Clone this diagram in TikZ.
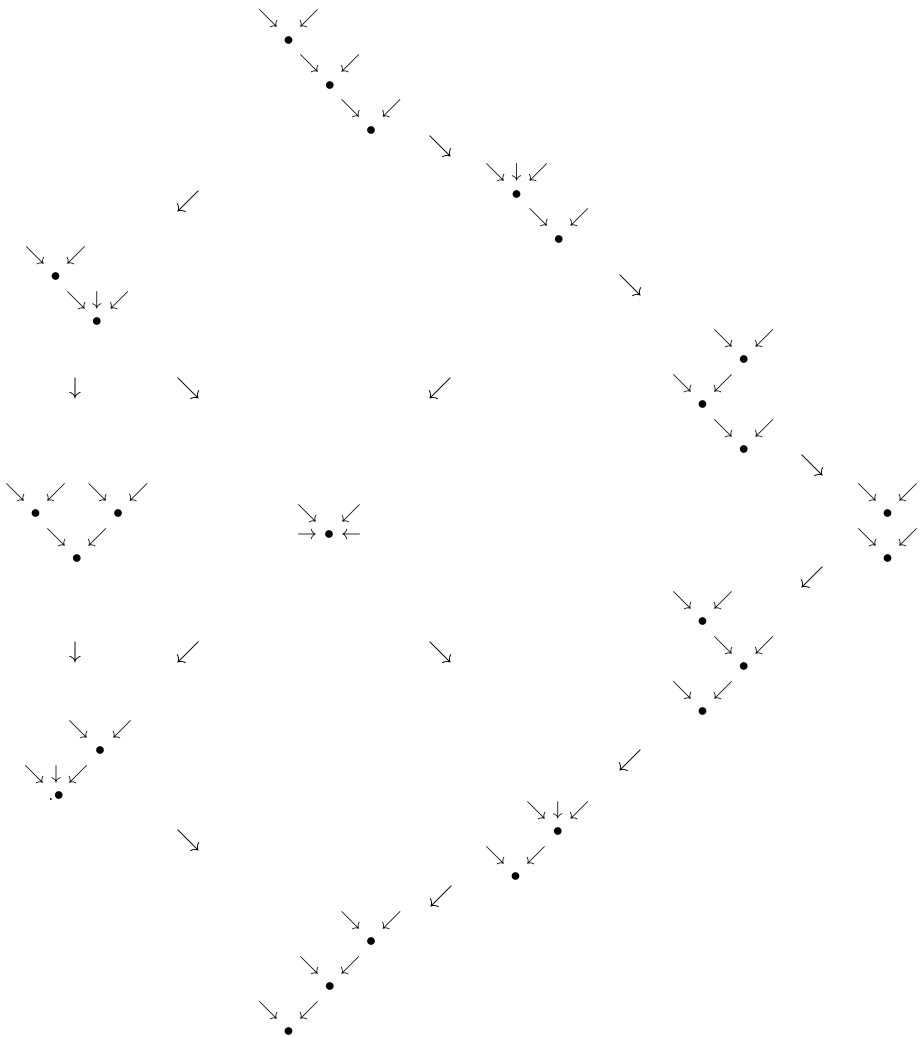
\documentclass[tikz,border=0pt]{standalone}
\usepackage{amsmath,amssymb}
\usepackage{tikz}
\usetikzlibrary{positioning}
\tikzset{
  trleaf/.style={inner sep=0pt, yshift=-1.2pt, font=\fontsize{12}{14}\selectfont},
  trdot/.style={inner sep=0pt, yshift=-1.2pt, font=\fontsize{12.5}{14}\selectfont},
  trmove/.style={inner sep=0pt, font=\fontsize{15.5}{18}\selectfont},
  trgrid/.style={x=12.36pt, y=-13.5pt}
}

\begin{document}
\begin{tikzpicture}[x=0.6pt,y=-0.6pt]
  \useasboundingbox (0,0) rectangle (919,1037);
  % top tree
  \begin{scope}[shift={(268,17)}, trgrid]
    \node[trleaf] (t1a) at (0,0) {$\searrow$};
    \node[trleaf] (t1b) at (2,0) {$\swarrow$};
    \node[trdot]  (t1c) at (1,1) {$\bullet$};
    \node[trleaf] (t1d) at (2,2) {$\searrow$};
    \node[trleaf] (t1e) at (4,2) {$\swarrow$};
    \node[trdot]  (t1f) at (3,3) {$\bullet$};
    \node[trleaf] (t1g) at (4,4) {$\searrow$};
    \node[trleaf] (t1h) at (6,4) {$\swarrow$};
    \node[trdot]  (t1i) at (5,5) {$\bullet$};
  \end{scope}
  \begin{scope}[shift={(495,171)}, trgrid]
    \node[trleaf] (t2a) at (0,0) {$\searrow$};
    \node[trleaf] (t2b) at (1.05,0) {$\downarrow$};
    \node[trleaf] (t2c) at (2.1,0) {$\swarrow$};
    \node[trdot]  (t2d) at (1.05,1) {$\bullet$};
    \node[trleaf] (t2e) at (2.1,2) {$\searrow$};
    \node[trleaf] (t2f) at (4.1,2) {$\swarrow$};
    \node[trdot]  (t2g) at (3.1,3) {$\bullet$};
  \end{scope}
  \begin{scope}[shift={(35,253)}, trgrid]
    \node[trleaf] (t3a) at (0,0) {$\searrow$};
    \node[trleaf] (t3b) at (2,0) {$\swarrow$};
    \node[trdot]  (t3c) at (1,1) {$\bullet$};
    \node[trleaf] (t3d) at (2,2) {$\searrow$};
    \node[trleaf] (t3e) at (3,2) {$\downarrow$};
    \node[trleaf] (t3f) at (4.1,2) {$\swarrow$};
    \node[trdot]  (t3g) at (3,3) {$\bullet$};
  \end{scope}
  \begin{scope}[shift={(682,336)}, trgrid]
    \node[trleaf] (t4a) at (2,0) {$\searrow$};
    \node[trleaf] (t4b) at (4,0) {$\swarrow$};
    \node[trdot]  (t4c) at (3,1) {$\bullet$};
    \node[trleaf] (t4d) at (0,2) {$\searrow$};
    \node[trleaf] (t4e) at (2,2) {$\swarrow$};
    \node[trdot]  (t4f) at (1,3) {$\bullet$};
    \node[trleaf] (t4g) at (2,4) {$\searrow$};
    \node[trleaf] (t4h) at (4,4) {$\swarrow$};
    \node[trdot]  (t4i) at (3,5) {$\bullet$};
  \end{scope}
  \begin{scope}[shift={(867,490)}, trgrid]
    \node[trleaf] (t5a) at (0,0) {$\searrow$};
    \node[trleaf] (t5b) at (2,0) {$\swarrow$};
    \node[trdot]  (t5c) at (1,1) {$\bullet$};
    \node[trleaf] (t5d) at (0,2) {$\searrow$};
    \node[trleaf] (t5e) at (2,2) {$\swarrow$};
    \node[trdot]  (t5f) at (1,3) {$\bullet$};
  \end{scope}
  \begin{scope}[shift={(15,490)}, trgrid]
    \node[trleaf] (t6a) at (0,0) {$\searrow$};
    \node[trleaf] (t6b) at (2,0) {$\swarrow$};
    \node[trleaf] (t6c) at (4,0) {$\searrow$};
    \node[trleaf] (t6d) at (6,0) {$\swarrow$};
    \node[trdot]  (t6e) at (1,1) {$\bullet$};
    \node[trdot]  (t6f) at (5,1) {$\bullet$};
    \node[trleaf] (t6g) at (2,2) {$\searrow$};
    \node[trleaf] (t6h) at (4,2) {$\swarrow$};
    \node[trdot]  (t6i) at (3,3) {$\bullet$};
  \end{scope}
  % middle tree
  \begin{scope}[shift={(307,511)}, trgrid, x=13.2pt]
    \node[trleaf] (t7a) at (0,0) {$\searrow$};
    \node[trleaf] (t7b) at (2,0) {$\swarrow$};
    \node[trleaf] (t7c) at (0,1) {$\rightarrow$};
    \node[trdot]  (t7d) at (1,1) {$\bullet$};
    \node[trleaf] (t7e) at (2,1) {$\leftarrow$};
  \end{scope}
  \begin{scope}[shift={(682,598)}, trgrid]
    \node[trleaf] (t8a) at (0,0) {$\searrow$};
    \node[trleaf] (t8b) at (2,0) {$\swarrow$};
    \node[trdot]  (t8c) at (1,1) {$\bullet$};
    \node[trleaf] (t8d) at (2,2) {$\searrow$};
    \node[trleaf] (t8e) at (4,2) {$\swarrow$};
    \node[trdot]  (t8f) at (3,3) {$\bullet$};
    \node[trleaf] (t8g) at (0,4) {$\searrow$};
    \node[trleaf] (t8h) at (2,4) {$\swarrow$};
    \node[trdot]  (t8i) at (1,5) {$\bullet$};
  \end{scope}
  \begin{scope}[shift={(34,727)}, trgrid, x=13.2pt]
    \node[trleaf] (t9a) at (2,0) {$\searrow$};
    \node[trleaf] (t9b) at (4,0) {$\swarrow$};
    \node[trdot]  (t9c) at (3,1) {$\bullet$};
    \node[trleaf] (t9d) at (0,2) {$\searrow$};
    \node[trleaf] (t9e) at (1,2) {$\downarrow$};
    \node[trleaf] (t9f) at (2,2) {$\swarrow$};
    \node[trdot]  (t9g) at (1,3) {.$\bullet$};
  \end{scope}
  \begin{scope}[shift={(495,808)}, trgrid]
    \node[trleaf] (t10a) at (2,0) {$\searrow$};
    \node[trleaf] (t10b) at (3.05,0) {$\downarrow$};
    \node[trleaf] (t10c) at (4.1,0) {$\swarrow$};
    \node[trdot]  (t10d) at (3.05,1) {$\bullet$};
    \node[trleaf] (t10e) at (0,2) {$\searrow$};
    \node[trleaf] (t10f) at (2,2) {$\swarrow$};
    \node[trdot]  (t10g) at (1,3) {$\bullet$};
  \end{scope}
  % bottom tree
  \begin{scope}[shift={(268,918)}, trgrid]
    \node[trleaf] (t11a) at (4,0) {$\searrow$};
    \node[trleaf] (t11b) at (6,0) {$\swarrow$};
    \node[trdot]  (t11c) at (5,1) {$\bullet$};
    \node[trleaf] (t11d) at (2,2) {$\searrow$};
    \node[trleaf] (t11e) at (4,2) {$\swarrow$};
    \node[trdot]  (t11f) at (3,3) {$\bullet$};
    \node[trleaf] (t11g) at (0,4) {$\searrow$};
    \node[trleaf] (t11h) at (2,4) {$\swarrow$};
    \node[trdot]  (t11i) at (1,5) {$\bullet$};
  \end{scope}
  % moves between trees
  \node[trmove] (m1)  at (440,147) {$\searrow$};
  \node[trmove] (m2)  at (188,201) {$\swarrow$};
  \node[trmove] (m3)  at (630,285) {$\searrow$};
  \node[trmove] (m4)  at (75,388)  {$\downarrow$};
  \node[trmove] (m5)  at (188,388) {$\searrow$};
  \node[trmove] (m6)  at (440,388) {$\swarrow$};
  \node[trmove] (m7)  at (812,465) {$\searrow$};
  \node[trmove] (m8)  at (812,577) {$\swarrow$};
  \node[trmove] (m9)  at (75,652)  {$\downarrow$};
  \node[trmove] (m10) at (188,652) {$\swarrow$};
  \node[trmove] (m11) at (440,652) {$\searrow$};
  \node[trmove] (m12) at (630,760) {$\swarrow$};
  \node[trmove] (m13) at (188,840) {$\searrow$};
  \node[trmove] (m14) at (441,896) {$\swarrow$};
\end{tikzpicture}
\end{document}
